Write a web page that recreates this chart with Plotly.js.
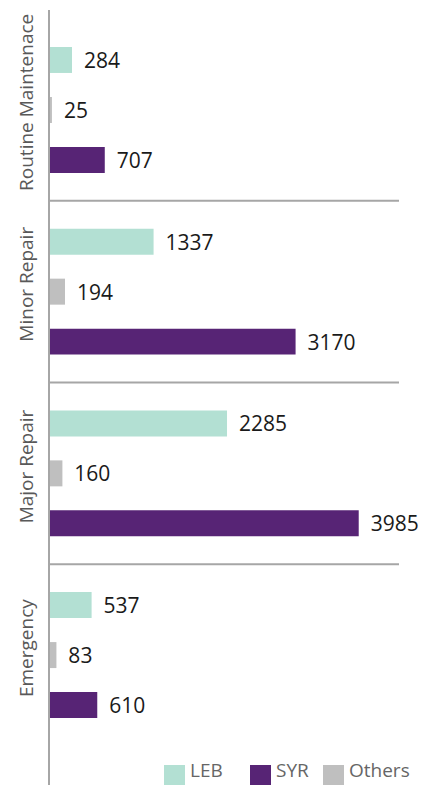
<!DOCTYPE html>
<html>
<head>
<meta charset="utf-8">
<script src="https://cdn.plot.ly/plotly-3.0.1.min.js"></script>
<style>html,body{margin:0;padding:0;background:#fff;}#chart{width:434px;height:785px;}</style>
</head>
<body>
<div id="chart"></div>
<script>
// ---- data ----
const groups = ['Routine Maintenace', 'Minor Repair', 'Major Repair', 'Emergency'];
const seriesNames = ['LEB', 'Others', 'SYR'];
const lebValues = [284, 1337, 2285, 537];
const othersValues = [25, 194, 160, 83];
const syrValues = [707, 3170, 3985, 610];
const legendOrder = ['LEB', 'SYR', 'Others'];

// ---- styles ----
const colors = { LEB: '#b3e0d3', Others: '#bfbfbf', SYR: '#572475' };
const valuesBySeries = { LEB: lebValues, Others: othersValues, SYR: syrValues };
const FONT = '"Open Sans", "Noto Sans", sans-serif';

const W = 434, H = 785, ML = 50, MR = 35, MT = 10, MB = 0;
const PW = W - ML - MR, PH = H - MT - MB;
const px2x = p => (p - ML) / PW;
const py2y = p => (H - MB - p) / PH;

const traces = seriesNames.map(name => ({
  type: 'bar',
  orientation: 'h',
  name: name,
  y: groups,
  x: valuesBySeries[name],
  marker: { color: colors[name] },
  text: valuesBySeries[name].map(v => '\u00a0\u2009' + v),
  textposition: 'outside',
  textfont: { family: FONT, size: 21, color: '#1a1a1a' },
  constraintext: 'none',
  cliponaxis: false,
  showlegend: false,
  hoverinfo: 'x+name'
}));

// separators between groups
const shapes = [];
for (let i = 0; i < groups.length - 1; i++) {
  shapes.push({ type: 'line', xref: 'paper', x0: 0, x1: 1, yref: 'y', y0: i + 0.5, y1: i + 0.5,
    line: { color: '#a6a6a6', width: 2 } });
}

// group labels
const annotations = groups.map((g, i) => ({
  text: g, xref: 'paper', x: px2x(26), yref: 'y', y: i, yshift: 7,
  textangle: -90, showarrow: false, xanchor: 'center', yanchor: 'middle',
  font: { family: FONT, size: 19, color: '#595959' }
}));

// custom legend
const swatchX = [164, 250, 323];
const textX = [189, 275, 348];
legendOrder.forEach((name, i) => {
  shapes.push({ type: 'rect', xref: 'paper', yref: 'paper',
    x0: px2x(swatchX[i]), x1: px2x(swatchX[i] + 21), y0: py2y(785), y1: py2y(765),
    fillcolor: colors[name], line: { width: 0 } });
  annotations.push({ text: name, xref: 'paper', yref: 'paper', x: px2x(textX[i]), y: py2y(784),
    xanchor: 'left', yanchor: 'bottom', showarrow: false, borderpad: 0,
    font: { family: FONT, size: 19, color: '#666666' } });
});

const layout = {
  width: W, height: H,
  margin: { l: ML, r: MR, t: MT, b: MB, pad: 0 },
  paper_bgcolor: '#ffffff', plot_bgcolor: '#ffffff',
  barmode: 'group', bargap: 0.175, bargroupgap: 0.48,
  showlegend: false,
  font: { family: FONT },
  xaxis: { range: [0, 4505], showgrid: false, zeroline: false, showline: false,
    showticklabels: false, ticks: '', fixedrange: true },
  yaxis: { type: 'category', categoryorder: 'array', categoryarray: groups,
    range: [3.715, -0.55], showgrid: false, zeroline: false,
    showline: true, linecolor: '#a6a6a6', linewidth: 2,
    showticklabels: false, ticks: '', fixedrange: true },
  shapes: shapes,
  annotations: annotations
};

Plotly.newPlot('chart', traces, layout, { displayModeBar: false, staticPlot: true });
</script>
</body>
</html>
